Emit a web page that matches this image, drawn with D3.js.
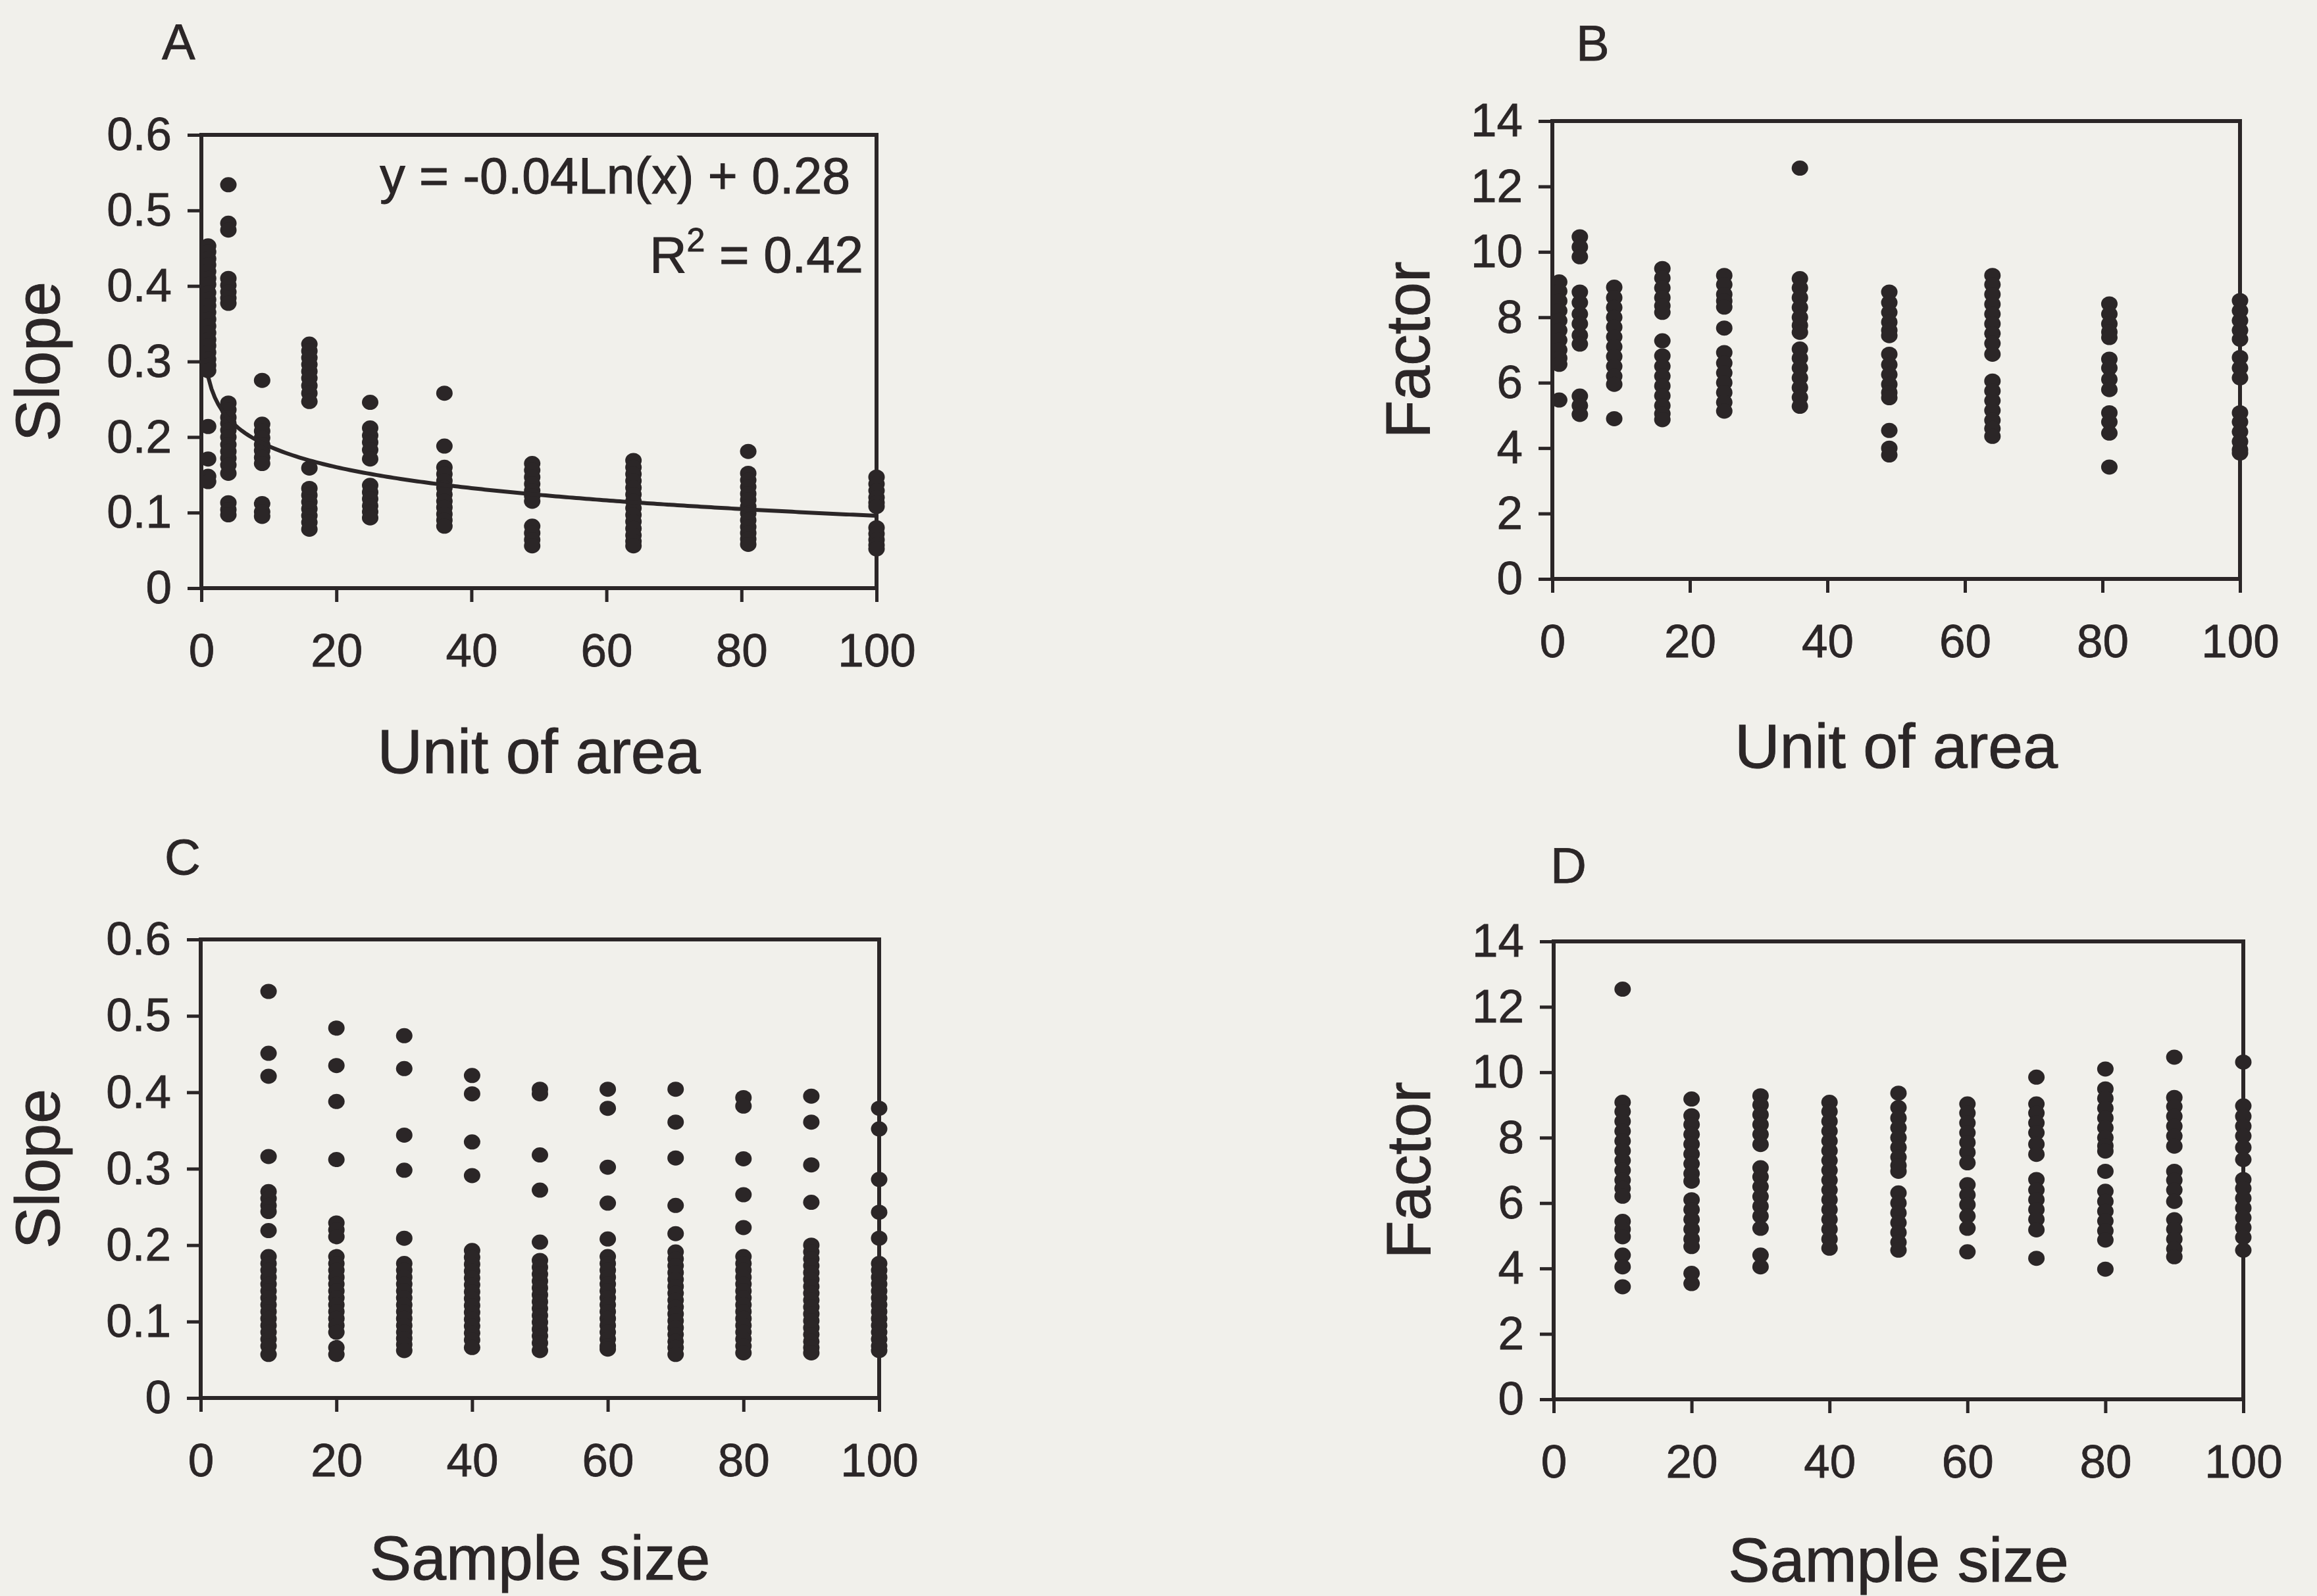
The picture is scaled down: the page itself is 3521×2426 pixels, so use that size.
<!DOCTYPE html>
<html>
<head>
<meta charset="utf-8">
<script src="https://cdn.jsdelivr.net/npm/d3@7"></script>
<style>
	html, body { margin: 0; padding: 0; background: #f1f0eb; }
	svg { display: block; }
	text { font-family: "Liberation Sans", Arial, sans-serif; }
</style>
</head>
<body>
<div id="chart"></div>
<script>
/* global d3 */

// Category values on the x axes
const areaUnits = [ 1, 4, 9, 16, 25, 36, 49, 64, 81, 100 ];
const sampleSizes = [ 10, 20, 30, 40, 50, 60, 70, 80, 90, 100 ];

// Panel A: slope against unit of area (one list per column)
const slopeByArea = [
	[ 0.453, 0.445, 0.436, 0.428, 0.419, 0.41, 0.402, 0.391, 0.382, 0.374, 0.365, 0.356, 0.347, 0.338, 0.329, 0.321, 0.312, 0.303, 0.295, 0.288, 0.214, 0.171, 0.148, 0.141 ],
	[ 0.534, 0.483, 0.474, 0.41, 0.401, 0.392, 0.384, 0.377, 0.245, 0.236, 0.226, 0.218, 0.209, 0.2, 0.19, 0.181, 0.172, 0.163, 0.152, 0.113, 0.104, 0.097 ],
	[ 0.275, 0.217, 0.208, 0.199, 0.19, 0.182, 0.173, 0.165, 0.112, 0.101, 0.095 ],
	[ 0.323, 0.314, 0.305, 0.296, 0.287, 0.278, 0.268, 0.258, 0.247, 0.159, 0.132, 0.123, 0.114, 0.105, 0.096, 0.087, 0.078 ],
	[ 0.246, 0.212, 0.202, 0.193, 0.183, 0.171, 0.136, 0.127, 0.118, 0.109, 0.101, 0.093 ],
	[ 0.258, 0.188, 0.16, 0.151, 0.142, 0.133, 0.124, 0.115, 0.107, 0.098, 0.09, 0.082 ],
	[ 0.165, 0.156, 0.147, 0.138, 0.129, 0.122, 0.115, 0.082, 0.073, 0.064, 0.056 ],
	[ 0.169, 0.16, 0.151, 0.142, 0.133, 0.124, 0.115, 0.106, 0.097, 0.088, 0.079, 0.07, 0.062, 0.056 ],
	[ 0.181, 0.152, 0.143, 0.134, 0.125, 0.117, 0.108, 0.099, 0.09, 0.081, 0.073, 0.065, 0.058 ],
	[ 0.147, 0.138, 0.129, 0.12, 0.113, 0.108, 0.08, 0.072, 0.064, 0.057, 0.052 ],
];

// Panel B: factor against unit of area
const factorByArea = [
	[ 9.08, 8.8, 8.5, 8.2, 7.9, 7.6, 7.3, 7.0, 6.75, 6.56, 5.47 ],
	[ 10.46, 10.15, 9.85, 8.77, 8.45, 8.1, 7.8, 7.45, 7.18, 5.59, 5.3, 5.03 ],
	[ 8.92, 8.6, 8.3, 8.0, 7.7, 7.4, 7.1, 6.8, 6.5, 6.2, 5.95, 4.9 ],
	[ 9.49, 9.2, 8.9, 8.6, 8.35, 8.15, 7.28, 6.82, 6.5, 6.2, 5.9, 5.6, 5.3, 5.05, 4.87 ],
	[ 9.28, 9.0, 8.7, 8.5, 8.31, 7.67, 6.92, 6.6, 6.3, 6.0, 5.7, 5.4, 5.13 ],
	[ 12.56, 9.18, 8.9, 8.6, 8.3, 8.0, 7.75, 7.54, 7.03, 6.75, 6.45, 6.15, 5.85, 5.55, 5.28 ],
	[ 8.77, 8.45, 8.15, 7.85, 7.6, 7.44, 6.87, 6.55, 6.25, 5.95, 5.7, 5.54, 4.54, 4.0, 3.79 ],
	[ 9.28, 9.0, 8.7, 8.4, 8.1, 7.8, 7.5, 7.2, 6.87, 6.05, 5.75, 5.45, 5.15, 4.85, 4.6, 4.36 ],
	[ 8.41, 8.1, 7.8, 7.55, 7.38, 6.72, 6.45, 6.1, 5.79, 5.08, 4.8, 4.46, 3.42 ],
	[ 8.51, 8.2, 7.9, 7.6, 7.33, 6.77, 6.45, 6.15, 5.08, 4.8, 4.5, 4.2, 3.95, 3.85 ],
];

// Panel C: slope against sample size
const slopeBySample = [
	[ 0.532, 0.451, 0.421, 0.316, 0.27, 0.261, 0.252, 0.244, 0.219, 0.185, 0.176, 0.167, 0.158, 0.149, 0.14, 0.131, 0.122, 0.113, 0.104, 0.095, 0.086, 0.077, 0.068, 0.057 ],
	[ 0.484, 0.435, 0.388, 0.312, 0.229, 0.22, 0.211, 0.185, 0.176, 0.167, 0.158, 0.149, 0.14, 0.131, 0.122, 0.113, 0.104, 0.095, 0.086, 0.066, 0.057 ],
	[ 0.474, 0.431, 0.344, 0.298, 0.209, 0.176, 0.167, 0.158, 0.149, 0.14, 0.131, 0.122, 0.113, 0.104, 0.095, 0.086, 0.078, 0.07, 0.062 ],
	[ 0.422, 0.398, 0.335, 0.291, 0.193, 0.184, 0.175, 0.166, 0.157, 0.148, 0.139, 0.13, 0.121, 0.112, 0.103, 0.094, 0.085, 0.076, 0.066 ],
	[ 0.404, 0.398, 0.318, 0.272, 0.204, 0.18, 0.171, 0.162, 0.153, 0.144, 0.135, 0.126, 0.117, 0.108, 0.099, 0.09, 0.081, 0.072, 0.062 ],
	[ 0.404, 0.379, 0.302, 0.255, 0.208, 0.185, 0.176, 0.167, 0.158, 0.149, 0.14, 0.131, 0.122, 0.113, 0.104, 0.095, 0.086, 0.077, 0.068, 0.064 ],
	[ 0.404, 0.361, 0.314, 0.252, 0.215, 0.191, 0.182, 0.173, 0.164, 0.155, 0.146, 0.137, 0.128, 0.119, 0.11, 0.101, 0.092, 0.083, 0.074, 0.066, 0.057 ],
	[ 0.393, 0.382, 0.313, 0.266, 0.223, 0.185, 0.176, 0.167, 0.158, 0.149, 0.14, 0.131, 0.122, 0.113, 0.104, 0.095, 0.086, 0.077, 0.068, 0.059 ],
	[ 0.395, 0.361, 0.305, 0.256, 0.2, 0.191, 0.182, 0.173, 0.164, 0.155, 0.146, 0.137, 0.128, 0.119, 0.11, 0.101, 0.092, 0.083, 0.074, 0.066, 0.059 ],
	[ 0.379, 0.352, 0.286, 0.243, 0.209, 0.176, 0.167, 0.158, 0.149, 0.14, 0.131, 0.122, 0.113, 0.104, 0.095, 0.086, 0.077, 0.068, 0.062 ],
];

// Panel D: factor against sample size
const factorBySample = [
	[ 12.54, 9.08, 8.8, 8.5, 8.2, 7.9, 7.6, 7.3, 7.0, 6.7, 6.45, 6.21, 5.44, 5.2, 4.97, 4.41, 4.05, 3.44 ],
	[ 9.18, 8.67, 8.4, 8.1, 7.8, 7.5, 7.2, 6.9, 6.67, 6.1, 5.8, 5.5, 5.2, 4.9, 4.67, 3.85, 3.54 ],
	[ 9.28, 9.0, 8.7, 8.4, 8.1, 7.79, 7.08, 6.8, 6.5, 6.2, 5.9, 5.6, 5.23, 4.41, 4.05 ],
	[ 9.08, 8.8, 8.5, 8.2, 7.9, 7.6, 7.3, 7.0, 6.7, 6.4, 6.1, 5.8, 5.5, 5.2, 4.9, 4.62 ],
	[ 9.36, 8.92, 8.6, 8.3, 8.0, 7.7, 7.4, 7.15, 6.97, 6.31, 6.0, 5.7, 5.4, 5.1, 4.8, 4.56 ],
	[ 9.03, 8.75, 8.45, 8.15, 7.85, 7.55, 7.23, 6.56, 6.25, 5.95, 5.6, 5.23, 4.51 ],
	[ 9.85, 9.03, 8.75, 8.45, 8.15, 7.8, 7.49, 6.72, 6.4, 6.1, 5.8, 5.5, 5.18, 4.31 ],
	[ 10.1, 9.49, 9.2, 8.9, 8.6, 8.3, 8.0, 7.75, 7.59, 6.97, 6.36, 6.05, 5.75, 5.45, 5.15, 4.87, 3.98 ],
	[ 10.46, 9.23, 8.95, 8.65, 8.35, 8.05, 7.74, 6.97, 6.7, 6.4, 6.05, 5.49, 5.2, 4.9, 4.6, 4.36 ],
	[ 10.31, 8.97, 8.65, 8.35, 8.05, 7.7, 7.33, 6.72, 6.45, 6.15, 5.85, 5.55, 5.25, 4.95, 4.56 ],
];

// Tick labels
const xTickValues = [ 0, 20, 40, 60, 80, 100 ];
const slopeTickValues = [ 0, 0.1, 0.2, 0.3, 0.4, 0.5, 0.6 ];
const factorTickValues = [ 0, 2, 4, 6, 8, 10, 12, 14 ];

// Logarithmic trend shown in panel A: y = a Ln(x) + b
const trendCoef = { a: -0.04, b: 0.28 };
const trendLabel = 'y = -0.04Ln(x) + 0.28';
const trendR2 = '0.42';

const INK = '#2b2627';
const WIDTH = 3521;
const HEIGHT = 2426;

const svg = d3.select( '#chart' )
	.append( 'svg' )
	.attr( 'width', WIDTH )
	.attr( 'height', HEIGHT );

svg.append( 'rect' )
	.attr( 'width', WIDTH )
	.attr( 'height', HEIGHT )
	.attr( 'fill', '#f1f0eb' );

const panels = [
	{
		letter: 'A', left: 306, right: 1332, top: 205, bottom: 894,
		letterX: 246, letterY: 90, yTitleX: 90, xTitleY: 1175,
		xs: areaUnits, ys: slopeByArea, yMax: 0.6, yTicks: slopeTickValues,
		xTitle: 'Unit of area', yTitle: 'Slope', trend: true,
	},
	{
		letter: 'B', left: 2359, right: 3404, top: 184, bottom: 880,
		letterX: 2395, letterY: 92, yTitleX: 2172, xTitleY: 1167,
		xs: areaUnits, ys: factorByArea, yMax: 14, yTicks: factorTickValues,
		xTitle: 'Unit of area', yTitle: 'Factor',
	},
	{
		letter: 'C', left: 305, right: 1336, top: 1428, bottom: 2125,
		letterX: 250, letterY: 1329, yTitleX: 90, xTitleY: 2401,
		xs: sampleSizes, ys: slopeBySample, yMax: 0.6, yTicks: slopeTickValues,
		xTitle: 'Sample size', yTitle: 'Slope',
	},
	{
		letter: 'D', left: 2361, right: 3409, top: 1431, bottom: 2127,
		letterX: 2356, letterY: 1342, yTitleX: 2173, xTitleY: 2404,
		xs: sampleSizes, ys: factorBySample, yMax: 14, yTicks: factorTickValues,
		xTitle: 'Sample size', yTitle: 'Factor',
	},
];

/**
 * Draw one scatter panel with its frame, axes, titles and dots
 *
 * @param {Object} cfg - Panel layout and data
 */
function drawPanel( cfg ) {
	const x = d3.scaleLinear().domain( [ 0, 100 ] ).range( [ cfg.left, cfg.right ] );
	const y = d3.scaleLinear().domain( [ 0, cfg.yMax ] ).range( [ cfg.bottom, cfg.top ] );
	const g = svg.append( 'g' ).attr( 'class', 'panel-' + cfg.letter );

	// dots
	const points = [];
	cfg.xs.forEach( ( xv, i ) => {
		cfg.ys[ i ].forEach( ( v ) => points.push( [ xv, v ] ) );
	} );

	g.selectAll( 'ellipse' )
		.data( points )
		.enter()
		.append( 'ellipse' )
		.attr( 'cx', ( d ) => x( d[ 0 ] ) )
		.attr( 'cy', ( d ) => y( d[ 1 ] ) )
		.attr( 'rx', 12.5 )
		.attr( 'ry', 11.5 )
		.attr( 'fill', INK );

	if ( cfg.trend ) {
		const line = d3.line()
			.x( ( d ) => x( d ) )
			.y( ( d ) => y( trendCoef.a * Math.log( d ) + trendCoef.b ) );

		g.append( 'path' )
			.datum( d3.range( 1, 100.01, 0.5 ) )
			.attr( 'd', line )
			.attr( 'fill', 'none' )
			.attr( 'stroke', INK )
			.attr( 'stroke-width', 6 );

		g.append( 'text' )
			.attr( 'x', 1292 )
			.attr( 'y', 294 )
			.attr( 'text-anchor', 'end' )
			.attr( 'font-size', 77 )
			.attr( 'fill', INK )
			.attr( 'stroke', INK )
			.attr( 'stroke-width', 1 )
			.text( trendLabel );

		const r2 = g.append( 'text' )
			.attr( 'x', 1312 )
			.attr( 'y', 414 )
			.attr( 'text-anchor', 'end' )
			.attr( 'font-size', 78 )
			.attr( 'fill', INK )
			.attr( 'stroke', INK )
			.attr( 'stroke-width', 1 );
		r2.append( 'tspan' ).text( 'R' );
		r2.append( 'tspan' ).attr( 'dy', -32 ).attr( 'font-size', 50 ).text( '2' );
		r2.append( 'tspan' ).attr( 'dy', 32 ).text( ' = ' + trendR2 );
	}

	// frame
	g.append( 'rect' )
		.attr( 'x', cfg.left )
		.attr( 'y', cfg.top )
		.attr( 'width', cfg.right - cfg.left )
		.attr( 'height', cfg.bottom - cfg.top )
		.attr( 'fill', 'none' )
		.attr( 'stroke', INK )
		.attr( 'stroke-width', 6 );

	// axes
	const gx = g.append( 'g' )
		.attr( 'transform', `translate(0,${ cfg.bottom })` )
		.call( d3.axisBottom( x ).tickValues( xTickValues ).tickSize( 21 ).tickPadding( 48 ).tickFormat( ( d ) => String( d ) ) );
	const gy = g.append( 'g' )
		.attr( 'transform', `translate(${ cfg.left },0)` )
		.call( d3.axisLeft( y ).tickValues( cfg.yTicks ).tickSize( 21 ).tickPadding( 24 ).tickFormat( ( d ) => String( d ) ) );

	[ gx, gy ].forEach( ( axis ) => {
		axis.attr( 'font-size', null ).attr( 'font-family', null ).attr( 'color', INK );
		axis.select( '.domain' ).remove();
		axis.selectAll( 'line' ).attr( 'stroke-width', 5 );
		axis.selectAll( 'text' )
			.attr( 'font-size', 71 )
			.attr( 'fill', INK )
			.attr( 'stroke', INK )
			.attr( 'stroke-width', 0.8 );
	} );

	// titles
	g.append( 'text' )
		.attr( 'x', cfg.letterX )
		.attr( 'y', cfg.letterY )
		.attr( 'font-size', 76 )
		.attr( 'fill', INK )
		.attr( 'stroke', INK )
		.attr( 'stroke-width', 0.8 )
		.text( cfg.letter );

	g.append( 'text' )
		.attr( 'x', ( cfg.left + cfg.right ) / 2 )
		.attr( 'y', cfg.xTitleY )
		.attr( 'text-anchor', 'middle' )
		.attr( 'font-size', 95 )
		.attr( 'fill', INK )
		.attr( 'stroke', INK )
		.attr( 'stroke-width', 1 )
		.text( cfg.xTitle );

	g.append( 'text' )
		.attr( 'transform', `translate(${ cfg.yTitleX },${ ( cfg.top + cfg.bottom ) / 2 }) rotate(-90)` )
		.attr( 'text-anchor', 'middle' )
		.attr( 'font-size', 95 )
		.attr( 'fill', INK )
		.attr( 'stroke', INK )
		.attr( 'stroke-width', 1 )
		.text( cfg.yTitle );
}

panels.forEach( drawPanel );
</script>
</body>
</html>
